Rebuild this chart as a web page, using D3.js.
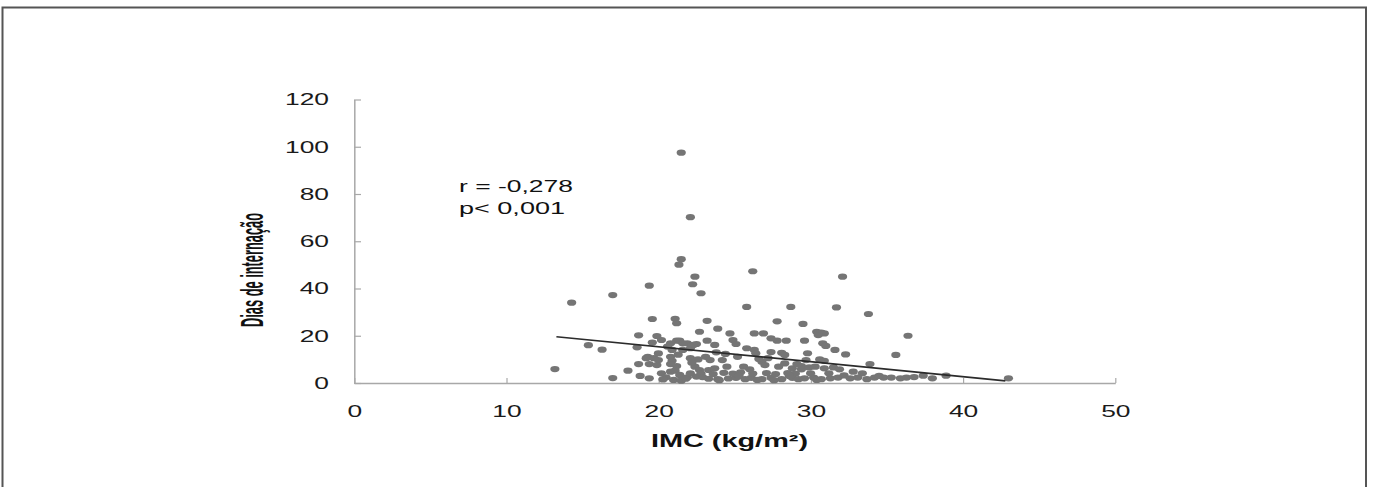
<!DOCTYPE html>
<html>
<head>
<meta charset="utf-8">
<script src="https://cdn.jsdelivr.net/npm/d3@7"></script>
<style>
  html, body { margin: 0; padding: 0; background: #fff; }
  svg { display: block; }
</style>
</head>
<body>
<svg id="chart"></svg>
<script>
// ---- data ----
const imc = [
  21.5, 22.1, 21.5, 21.35, 26.2, 22.4, 32.1, 22.25, 19.4, 22.8, 17.0, 14.3, 25.8, 28.7, 31.7, 33.8,
  19.6, 21.1, 21.2, 23.2, 27.8, 29.5, 36.4, 15.4, 16.3, 13.2, 17.0, 18.0, 18.7,
  22.7, 18.7, 19.9, 20.2, 19.6, 21.2, 21.4, 21.9, 22.5, 18.6, 20.6, 20.9, 21.6, 22.1,
  19.3, 19.7, 20.0, 20.8, 20.9, 22.1, 22.6, 19.4, 20.8, 21.2, 18.8, 19.4, 20.2, 20.5,
  20.8, 21.1, 21.4, 21.9, 22.1, 22.5, 21.0, 21.5, 22.4, 22.7, 20.8, 21.6, 22.3,
  23.9, 24.7, 26.3, 26.9, 27.4, 27.8, 28.4, 29.6, 23.2, 24.9, 25.1, 23.7, 26.3, 26.4,
  27.4, 28.1, 28.3, 25.2, 23.1, 23.4, 24.2, 24.5, 25.6, 26.0, 26.8, 27.0, 27.9, 28.3,
  28.8, 29.1, 29.4, 23.3, 23.7,
  23.3, 23.9, 24.6, 25.1, 25.7, 26.1, 26.8, 27.4, 28.1, 28.8, 29.2,
  22.8, 23.6, 24.3, 24.9, 25.4, 26.2, 27.1, 27.7, 28.5, 29.0, 25.8,
  30.4, 30.7, 30.9, 30.5, 30.8, 31.0, 31.6, 32.3, 35.6, 29.7, 30.6, 30.9, 33.9,
  29.4, 29.9, 30.3, 30.9, 31.5, 31.9, 32.8, 33.4,
  29.6, 30.2, 30.7, 31.3, 31.8, 32.6, 33.1, 33.7, 34.2, 34.8, 35.3, 35.9, 36.3,
  30.0, 31.2, 37.4, 38.0, 38.9, 43.0,
  19.2, 19.9, 34.5, 36.8,
  20.3, 21.8, 22.9, 24.0, 25.3, 26.5, 27.6, 28.6, 30.4, 32.2,
  20.0, 21.3, 23.8, 26.6, 29.8, 24.4, 27.2, 22.2
];
const dias = [
  97.5, 70.2, 52.4, 50.1, 47.3, 45.0, 45.0, 41.8, 41.2, 38.0, 37.2, 34.0, 32.2, 32.2, 32.0, 29.2,
  27.1, 27.2, 25.3, 26.3, 26.1, 25.0, 20.0, 16.0, 14.1, 5.9, 2.1, 5.2, 8.0,
  21.7, 20.2, 19.9, 18.2, 17.1, 17.9, 17.9, 16.8, 16.5, 15.1, 15.4, 14.0, 14.0, 14.7,
  11.1, 10.5, 9.7, 11.1, 9.4, 10.5, 10.0, 8.0, 8.0, 7.2, 3.0, 2.0, 4.1, 2.4,
  4.8, 5.2, 3.4, 2.4, 4.1, 2.7, 1.3, 1.0, 6.9, 5.5, 16.8, 16.8, 16.1,
  23.0, 21.0, 21.0, 21.0, 18.9, 17.9, 17.9, 17.9, 17.9, 18.2, 16.5, 16.1, 14.0, 12.6,
  13.1, 12.8, 11.9, 11.1, 11.1, 9.7, 9.7, 6.9, 6.9, 5.8, 9.0, 7.6, 6.9, 8.3,
  6.2, 8.0, 5.8, 5.5, 6.2,
  1.8, 1.6, 1.9, 2.2, 1.6, 2.2, 1.6, 2.2, 1.6, 2.2, 1.6,
  4.0, 3.8, 4.3, 4.0, 4.5, 4.0, 4.2, 3.8, 4.2, 4.0, 14.7,
  21.7, 21.3, 21.0, 20.3, 16.8, 15.7, 14.0, 12.1, 11.9, 9.7, 10.0, 9.4, 8.0,
  7.2, 6.6, 6.9, 6.2, 6.6, 5.8, 4.8, 4.1,
  2.0, 2.3, 1.6, 2.0, 2.3, 2.0, 2.3, 1.6, 2.3, 2.3, 2.3, 2.0, 2.3,
  4.1, 4.1, 3.1, 2.0, 3.1, 2.0,
  10.5, 7.6, 3.0, 2.5,
  1.5, 1.8, 2.5, 1.2, 3.0, 1.3, 1.2, 3.0, 1.3, 3.2,
  12.5, 12.0, 13.0, 10.2, 12.6, 12.3, 10.5, 8.6
];
const trendX = [13.3, 42.8];
const trendY = [19.6, 0.9];
const xTicks = [0, 10, 20, 30, 40, 50];
const yTicks = [0, 20, 40, 60, 80, 100, 120];
const xTitle = "IMC (kg/m²)";
const yTitle = "Dias de internação";
const stats = ["r = -0,278", "p< 0,001"];

// ---- layout ----
const WIDTH = 1373, HEIGHT = 487;
const S = 1.6;                       // horizontal stretch of the reference
const W = WIDTH / S;
const FONT = "'Liberation Sans', Arial, Helvetica, sans-serif";

const svg = d3.select("#chart")
  .attr("width", WIDTH).attr("height", HEIGHT)
  .attr("viewBox", `0 0 ${W} ${HEIGHT}`)
  .attr("preserveAspectRatio", "none");

// frame
svg.append("rect")
  .attr("x", 2.5 / S).attr("y", 7.5)
  .attr("width", (1366 - 2.5) / S).attr("height", 540)
  .attr("fill", "#fff")
  .attr("stroke", "#555").attr("stroke-width", 2)
  .attr("vector-effect", "non-scaling-stroke");

const x = d3.scaleLinear().domain([0, 50]).range([354 / S, 1115 / S]);
const y = d3.scaleLinear().domain([0, 120]).range([383, 99.5]);

const AXIS_COLOR = "#a8a8a8";

// x axis
const gx = svg.append("g").attr("transform", `translate(0,${y(0)})`)
  .call(d3.axisBottom(x).tickValues(xTicks).tickSizeInner(-5).tickSizeOuter(0)
    .tickPadding(22).tickFormat(d3.format("d")));
// y axis
const gy = svg.append("g").attr("transform", `translate(${x(0)},0)`)
  .call(d3.axisLeft(y).tickValues(yTicks).tickSizeInner(-7 / S).tickSizeOuter(0)
    .tickPadding(25 / S).tickFormat(d3.format("d")));

[gx, gy].forEach(g => {
  g.select(".domain").attr("stroke", AXIS_COLOR).attr("stroke-width", 1.5)
    .attr("vector-effect", "non-scaling-stroke");
  g.selectAll(".tick line").attr("stroke", AXIS_COLOR).attr("stroke-width", 1.2)
    .attr("vector-effect", "non-scaling-stroke");
  g.selectAll(".tick text").attr("fill", "#1a1a1a")
    .attr("font-family", FONT).attr("font-size", 16.5);
});

// points
svg.append("g").selectAll("ellipse")
  .data(imc.map((v, i) => [v, dias[i]]))
  .join("ellipse")
  .attr("cx", d => x(d[0]))
  .attr("cy", d => y(d[1]))
  .attr("rx", 4.6 / S)
  .attr("ry", 3.1)
  .attr("fill", "#757575");

// trend line
svg.append("path")
  .datum(trendX.map((v, i) => [v, trendY[i]]))
  .attr("d", d3.line().x(d => x(d[0])).y(d => y(d[1])))
  .attr("fill", "none").attr("stroke", "#2b2b2b").attr("stroke-width", 1.6)
  .attr("vector-effect", "non-scaling-stroke");

// statistics annotation
svg.append("g").selectAll("text")
  .data(stats)
  .join("text")
  .attr("x", 459 / S)
  .attr("y", (d, i) => 192 + i * 22)
  .attr("font-family", FONT).attr("font-size", 17).attr("fill", "#111")
  .attr("textLength", (d, i) => (i === 0 ? 114 : 106) / S)
  .attr("lengthAdjust", "spacingAndGlyphs")
  .text(d => d);

// x title
svg.append("text")
  .attr("x", 729.5 / S).attr("y", 447)
  .attr("text-anchor", "middle")
  .attr("font-family", FONT).attr("font-weight", "bold").attr("font-size", 17.5)
  .attr("fill", "#111")
  .attr("textLength", 157 / S).attr("lengthAdjust", "spacingAndGlyphs")
  .text(xTitle);

// y title
svg.append("text")
  .attr("transform", `translate(${263 / S},270) rotate(-90)`)
  .attr("text-anchor", "middle")
  .attr("font-family", FONT).attr("font-weight", "bold").attr("font-size", 19.5)
  .attr("fill", "#111")
  .attr("textLength", 114).attr("lengthAdjust", "spacingAndGlyphs")
  .text(yTitle);
</script>
</body>
</html>
